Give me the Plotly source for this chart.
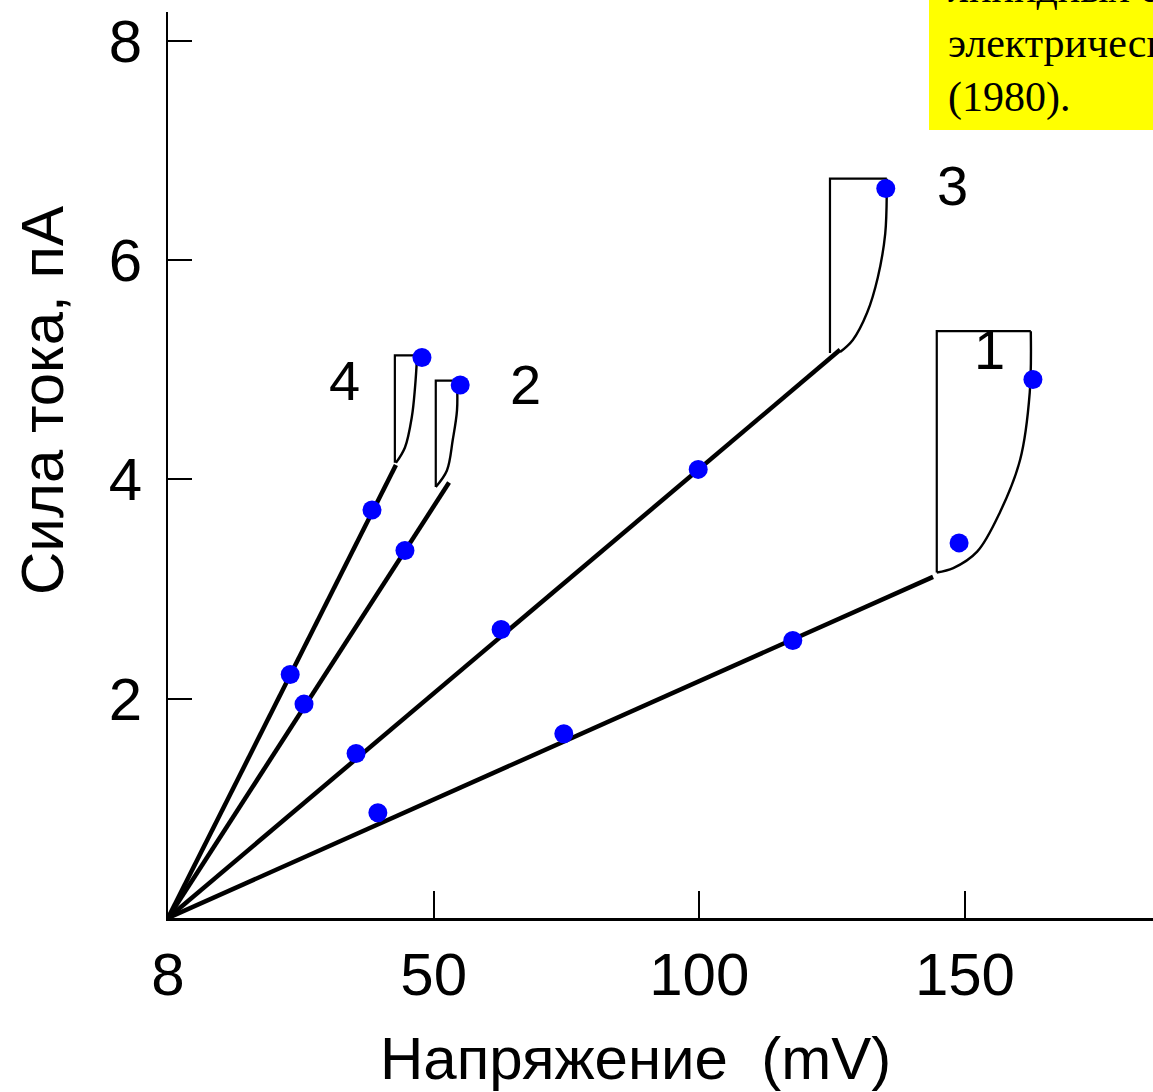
import plotly.graph_objects as go

# ---------------- data ----------------
series_names = ["1", "2", "3", "4"]

# measured points (mV, pA)
pts_x = {
    "1": [39.5, 74.5, 117.6, 148.9, 162.8],
    "2": [25.6, 44.6, 55.0],
    "3": [35.4, 62.7, 99.8, 135.1],
    "4": [23.0, 38.4, 47.8],
}
pts_y = {
    "1": [0.96, 1.68, 2.53, 3.42, 4.91],
    "2": [1.95, 3.35, 4.86],
    "3": [1.50, 2.63, 4.09, 6.65],
    "4": [2.22, 3.72, 5.11],
}

# linear (ohmic) part: from origin to end point
line_end_x = {"1": 144.0, "2": 52.9, "3": 126.5, "4": 42.9}
line_end_y = {"1": 3.11, "2": 3.97, "3": 5.18, "4": 4.13}

# nonlinear part (curve)
curve_x = {
    "1": [144.7, 147.8, 152.3, 156.6, 160.4, 162.2, 162.4],
    "2": [50.4, 52.5, 53.6, 54.4, 54.4],
    "3": [126.5, 128.9, 131.6, 133.6, 135.0, 135.3, 135.3],
    "4": [42.9, 44.6, 45.9, 46.5, 46.9],
}
curve_y = {
    "1": [3.15, 3.19, 3.34, 3.70, 4.18, 4.79, 5.35],
    "2": [3.93, 4.08, 4.36, 4.63, 4.90],
    "3": [5.16, 5.27, 5.52, 5.84, 6.24, 6.66, 6.74],
    "4": [4.15, 4.29, 4.57, 4.84, 5.13],
}

# bracket (left x, bottom y, top y, right x)
br_left = {"1": 144.7, "2": 50.4, "3": 124.6, "4": 42.7}
br_bottom = {"1": 3.15, "2": 3.93, "3": 5.15, "4": 4.15}
br_top = {"1": 5.35, "2": 4.90, "3": 6.74, "4": 5.13}
br_right = {"1": 162.4, "2": 54.4, "3": 135.3, "4": 46.9}

# series number labels
label_x = {"1": 154.7, "2": 67.2, "3": 147.7, "4": 33.3}
label_y = {"1": 5.18, "2": 4.86, "3": 6.68, "4": 4.90}

x_tickvals = [0, 50, 100, 150]
x_ticktext = ["8", "50", "100", "150"]
y_tickvals = [2, 4, 6, 8]
y_ticktext = ["2", "4", "6", "8"]

x_title = "Напряжение \u00a0(mV)"
y_title = "Сила тока, пА"
note_lines = ["липидных слоев", "электрических", "(1980)."]

# ---------------- figure ----------------
SANS = "Liberation Sans, Arial, sans-serif"
SERIF = "Liberation Serif, Times New Roman, serif"

fig = go.Figure()

for s in series_names:
    # thick linear segment
    fig.add_trace(go.Scatter(
        x=[0, line_end_x[s]], y=[0, line_end_y[s]], mode="lines",
        line=dict(color="black", width=4.5), showlegend=False, hoverinfo="skip"))
    # bracket
    fig.add_trace(go.Scatter(
        x=[br_left[s], br_left[s], br_right[s]],
        y=[br_bottom[s], br_top[s], br_top[s]], mode="lines",
        line=dict(color="black", width=2.2), showlegend=False, hoverinfo="skip"))
    # curve
    fig.add_trace(go.Scatter(
        x=curve_x[s], y=curve_y[s], mode="lines",
        line=dict(color="black", width=2.4, shape="spline", smoothing=1.0),
        showlegend=False, hoverinfo="skip"))

for s in series_names:
    fig.add_trace(go.Scatter(
        x=pts_x[s], y=pts_y[s], mode="markers", name=s,
        marker=dict(color="#0000FF", size=19, line=dict(width=0)),
        showlegend=False, cliponaxis=False))

for s in series_names:
    fig.add_annotation(x=label_x[s], y=label_y[s], text=s, showarrow=False,
                       font=dict(family=SANS, size=56, color="black"),
                       xanchor="center", yanchor="middle")

# axis titles
fig.add_annotation(xref="paper", yref="paper", x=0.4751, y=-0.155, text=x_title,
                   showarrow=False, font=dict(family=SANS, size=60, color="black"),
                   xanchor="center", yanchor="middle")
fig.add_annotation(xref="paper", yref="paper", x=-0.128, y=0.5717, text=y_title,
                   showarrow=False, textangle=-90,
                   font=dict(family=SANS, size=60, color="black"),
                   xanchor="center", yanchor="middle")

# yellow note box
fig.add_shape(type="rect", xref="paper", yref="paper",
              x0=0.7726, x1=1.2, y0=0.8698, y1=1.2,
              fillcolor="#FFFF00", line=dict(width=0), layer="below")
fig.add_annotation(xref="paper", yref="paper", x=0.7899, y=0.9658,
                   text="<br>".join(note_lines), showarrow=False, align="left",
                   font=dict(family=SERIF, size=42, color="black"),
                   xanchor="left", yanchor="middle")

fig.update_xaxes(range=[0, 185.4], tickvals=x_tickvals, ticktext=x_ticktext,
                 ticks="inside", ticklen=27, tickwidth=2, tickcolor="black",
                 showline=True, linecolor="black", linewidth=2.5,
                 showgrid=False, zeroline=False, ticklabelstandoff=2,
                 tickfont=dict(family=SANS, size=60, color="black"))
fig.update_yaxes(range=[0, 8.26], tickvals=y_tickvals, ticktext=y_ticktext,
                 ticks="inside", ticklen=24, tickwidth=2, tickcolor="black",
                 showline=True, linecolor="black", linewidth=2,
                 showgrid=False, zeroline=False, ticklabelstandoff=12,
                 tickfont=dict(family=SANS, size=60, color="black"))

fig.update_layout(width=1153, height=1092,
                  margin=dict(l=168, r=0, t=12, b=174, pad=0),
                  paper_bgcolor="white", plot_bgcolor="white",
                  showlegend=False)

fig.write_html(
    "out.html",
    config={"displayModeBar": False},
    post_script="document.body.style.margin='0';document.body.style.overflow='hidden';",
)
